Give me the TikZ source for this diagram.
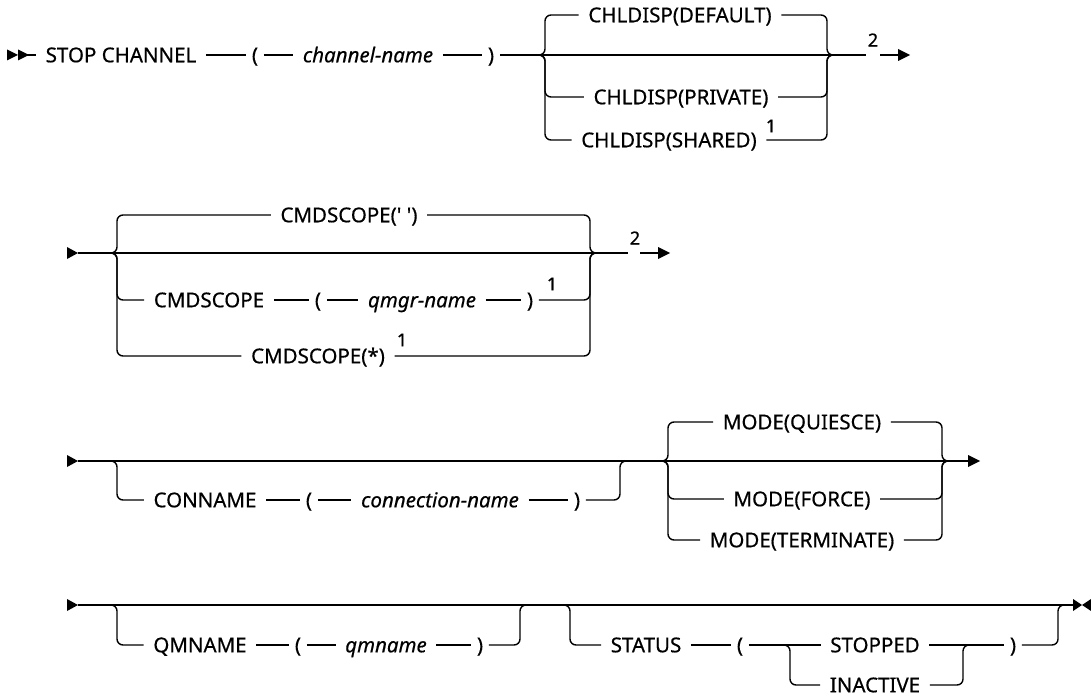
\documentclass[tikz,border=0pt]{standalone}
\usepackage{fontspec}
\setmainfont{Noto Sans}[UprightFeatures={FakeBold=0.5},ItalicFeatures={FakeBold=0.5}]
\begin{document}
\begin{tikzpicture}[x=1pt,y=-1pt,line width=1.4pt,
  t/.style={font=\fontsize{20.5}{24}\selectfont,inner xsep=9pt,inner ysep=0pt,text height=14.6pt,text depth=0pt,anchor=center},
  it/.style={t,font=\fontsize{20.5}{24}\selectfont\itshape},
  par/.style={t,inner xsep=5pt},
  sup/.style={font=\fontsize{18}{20}\selectfont,inner sep=0pt},
  br/.style={rounded corners=6pt},
  tip/.style={fill=black,draw=none}]
\useasboundingbox (0,0) rectangle (1091,698);

% ---------------- Row 1
\fill[tip] (7,49.5)--(18,55)--(7,60.5)--cycle;
\fill[tip] (18,49.5)--(29,55)--(18,60.5)--cycle;
\coordinate (s1) at (18,55);
\node[t] (stop) at (121,55) {STOP CHANNEL};
\node[par] (lp1) at (255,55) {(};
\node[it] (chn) at (368,55) {channel-name};
\node[par] (rp1) at (491,55) {)};
\coordinate (e1) at (866,55);
\draw (s1) -- (stop.west) (stop.east) -- (lp1.west) (lp1.east) -- (chn.west) (chn.east) -- (rp1.west) (rp1.east) -- (e1);
\node[t] (def) at (680,15) {CHLDISP(DEFAULT)};
\node[t] (prv) at (681,97) {CHLDISP(PRIVATE)};
\node[t] (shr) at (669,140) {CHLDISP(SHARED)};
\node[sup] (f1a) at (771,126) {1};
\coordinate (a1) at (539,55); \coordinate (b1) at (833,55);
\draw[br] (a1) -- (545,55) -- (545,15) -- (def.west);
\draw[br] (def.east) -- (827,15) -- (827,55) -- (b1);
\draw[br] (a1) -- (545,55) -- (545,97) -- (prv.west);
\draw[br] (prv.east) -- (827,97) -- (827,55) -- (b1);
\draw[br] (a1) -- (545,55) -- (545,140) -- (shr.west);
\draw[br] (shr.east) -- (827,140) -- (827,55) -- (b1);
\node[sup] (f2a) at (873,40) {2};
\coordinate (g1) at (880,55); \coordinate (h1) at (899,55);
\draw (g1) -- (h1);
\fill[tip] (898,49)--(910,55)--(898,61)--cycle;

% ---------------- Row 2
\fill[tip] (67,247)--(78,253)--(67,259)--cycle;
\coordinate (s2) at (78,253);
\coordinate (e2) at (628,253);
\draw (s2) -- (e2);
\node[t] (cs1) at (349,215) {CMDSCOPE(\textquotesingle\ \textquotesingle)};
\node[t] (cs2) at (209,300) {CMDSCOPE};
\node[par] (lp2) at (318,300) {(};
\node[it] (qmg) at (422,300) {qmgr-name};
\node[par] (rp2) at (530,300) {)};
\node[sup] (f1b) at (552,284) {1};
\node[t] (cs3) at (318,356) {CMDSCOPE(*)};
\node[sup] (f1c) at (402,340) {1};
\coordinate (a2) at (111,253); \coordinate (b2) at (596,253);
\draw[br] (a2) -- (117,253) -- (117,215) -- (cs1.west);
\draw[br] (cs1.east) -- (590,215) -- (590,253) -- (b2);
\draw[br] (a2) -- (117,253) -- (117,300) -- (cs2.west);
\draw (cs2.east) -- (lp2.west) (lp2.east) -- (qmg.west) (qmg.east) -- (rp2.west);
\draw[br] (rp2.east) -- (590,300) -- (590,253) -- (b2);
\draw[br] (a2) -- (117,253) -- (117,356) -- (cs3.west);
\draw[br] (cs3.east) -- (590,356) -- (590,253) -- (b2);
\node[sup] (f2b) at (635,238) {2};
\coordinate (g2) at (640,253); \coordinate (h2) at (659,253);
\draw (g2) -- (h2);
\fill[tip] (658,247)--(670,253)--(658,259)--cycle;

% ---------------- Row 3
\fill[tip] (67,455)--(78,461)--(67,467)--cycle;
\coordinate (s3) at (78,461);
\coordinate (e3) at (969,461);
\draw (s3) -- (e3);
\node[t] (con) at (205,500) {CONNAME};
\node[par] (lp3) at (309,500) {(};
\node[it] (cnn) at (440,500) {connection-name};
\node[par] (rp3) at (577,500) {)};
\coordinate (a3) at (111,461); \coordinate (b3) at (626,461);
\draw[br] (a3) -- (117,461) -- (117,500) -- (con.west);
\draw (con.east) -- (lp3.west) (lp3.east) -- (cnn.west) (cnn.east) -- (rp3.west);
\draw[br] (rp3.east) -- (620,500) -- (620,461) -- (b3);
\node[t] (mq) at (802,422) {MODE(QUIESCE)};
\node[t] (mf) at (802,499) {MODE(FORCE)};
\node[t] (mt) at (802,540) {MODE(TERMINATE)};
\coordinate (c3) at (662,461); \coordinate (d3) at (948,461);
\draw[br] (c3) -- (668,461) -- (668,422) -- (mq.west);
\draw[br] (mq.east) -- (942,422) -- (942,461) -- (d3);
\draw[br] (c3) -- (668,461) -- (668,499) -- (mf.west);
\draw[br] (mf.east) -- (942,499) -- (942,461) -- (d3);
\draw[br] (c3) -- (668,461) -- (668,540) -- (mt.west);
\draw[br] (mt.east) -- (942,540) -- (942,461) -- (d3);
\fill[tip] (968,455)--(980,461)--(968,467)--cycle;

% ---------------- Row 4
\fill[tip] (67,599)--(78,605)--(67,611)--cycle;
\coordinate (s4) at (78,605);
\coordinate (e4) at (1074,605);
\draw (s4) -- (e4);
\node[t] (qmn) at (200,645) {QMNAME};
\node[par] (lp4) at (298,645) {(};
\node[it] (qmv) at (386,645) {qmname};
\node[par] (rp4) at (480,645) {)};
\coordinate (a4) at (111,605); \coordinate (b4) at (526,605);
\draw[br] (a4) -- (117,605) -- (117,645) -- (qmn.west);
\draw (qmn.east) -- (lp4.west) (lp4.east) -- (qmv.west) (qmv.east) -- (rp4.west);
\draw[br] (rp4.east) -- (520,645) -- (520,605) -- (b4);
\node[t] (sts) at (646,645) {STATUS};
\node[par] (lp5) at (740,645) {(};
\node[t] (stp) at (875,645) {STOPPED};
\node[t] (ina) at (875,685) {INACTIVE};
\node[par] (rp5) at (1013,645) {)};
\coordinate (a5) at (564,605); \coordinate (b5) at (1064,605);
\draw[br] (a5) -- (570,605) -- (570,645) -- (sts.west);
\draw (sts.east) -- (lp5.west) (lp5.east) -- (stp.west) (stp.east) -- (rp5.west);
\coordinate (a6) at (784,645); \coordinate (b6) at (969,645);
\draw[br] (a6) -- (790,645) -- (790,685) -- (ina.west);
\draw[br] (ina.east) -- (963,685) -- (963,645) -- (b6);
\draw[br] (rp5.east) -- (1058,645) -- (1058,605) -- (b5);
\fill[tip] (1073,599)--(1082,605)--(1073,611)--cycle;
\fill[tip] (1091,599)--(1082,605)--(1091,611)--cycle;
\end{tikzpicture}
\end{document}
